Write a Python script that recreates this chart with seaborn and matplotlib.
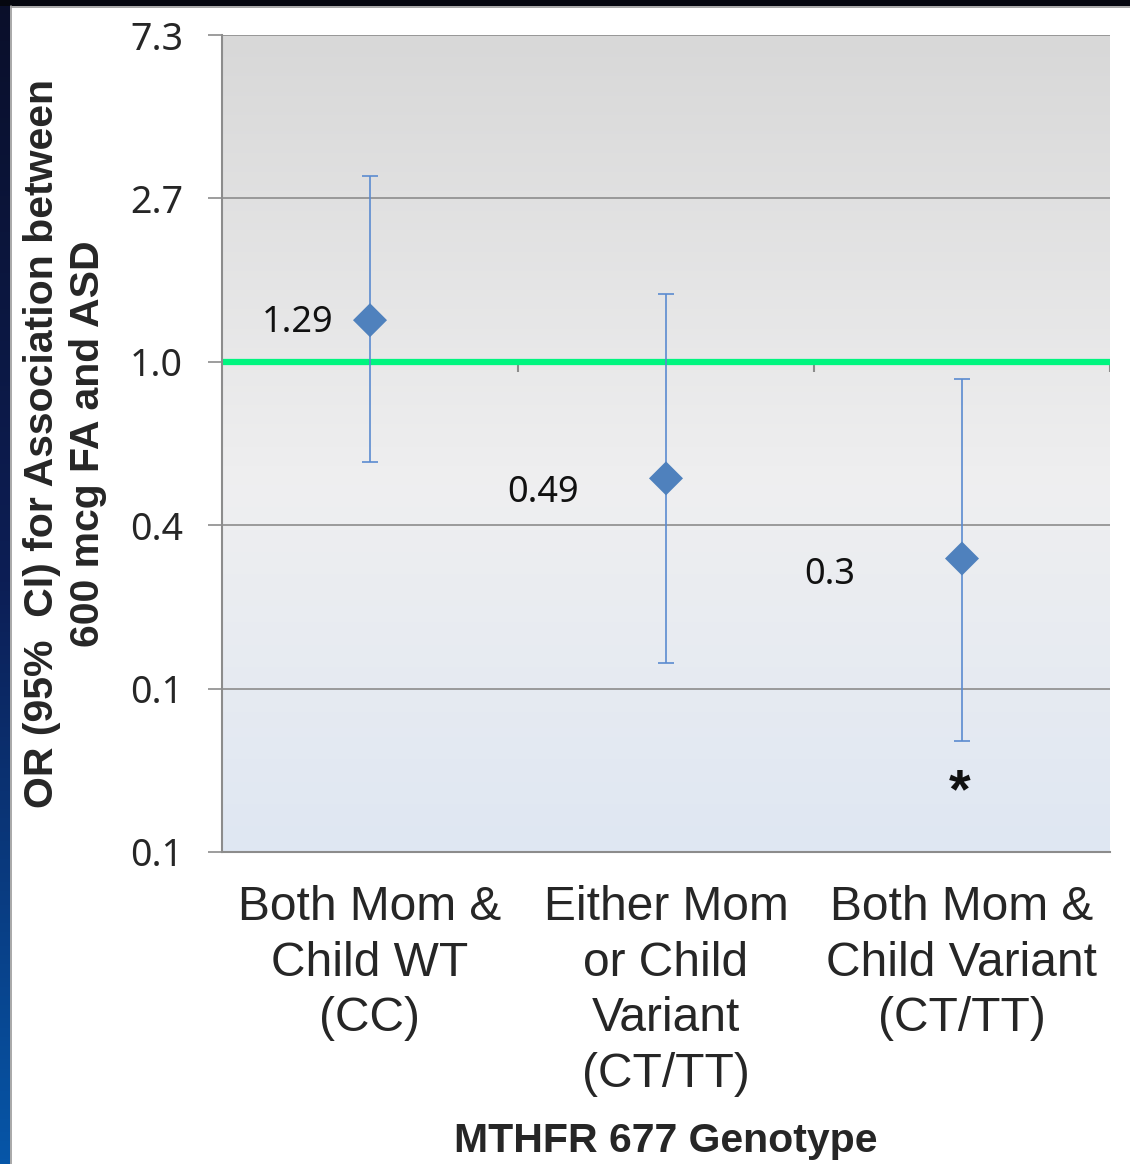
import numpy as np
import pandas as pd
import matplotlib
matplotlib.use("Agg")
import matplotlib.pyplot as plt
import seaborn as sns

# data
groups = ["Both Mom &\nChild WT\n(CC)",
          "Either Mom\nor Child\nVariant\n(CT/TT)",
          "Both Mom &\nChild Variant\n(CT/TT)"]
odds_ratio = [1.29, 0.49, 0.30]
ci_low = [0.54, 0.158, 0.098]
ci_high = [3.12, 1.51, 0.90]
or_labels = ["1.29", "0.49", "0.3"]
ytick_labels = ["0.1", "0.1", "0.4", "1.0", "2.7", "7.3"]
ytick_powers = [-3, -2, -1, 0, 1, 2]

df = pd.DataFrame({"pos": range(len(groups)), "OR": odds_ratio,
                   "low": ci_low, "high": ci_high})

sns.set_style("white")
plt.rcParams["font.family"] = ["Liberation Sans", "DejaVu Sans"]

fig = plt.figure(figsize=(11.30, 11.64), dpi=100)
fig.patch.set_facecolor("white")

# dark frame strips (slide edge)
left_strip = fig.add_axes([0, 0, 10 / 1130, 1])
grad = np.linspace(0, 1, 256).reshape(-1, 1)
strip_cmap = matplotlib.colors.LinearSegmentedColormap.from_list(
    "strip", ["#0a0f2a", "#0d1e55", "#0656a8"])
left_strip.imshow(grad, aspect="auto", cmap=strip_cmap, origin="upper")
left_strip.axis("off")
top_strip = fig.add_axes([0, 1 - 6 / 1164, 1, 6 / 1164])
top_strip.set_facecolor("#05070f")
top_strip.set_xticks([]); top_strip.set_yticks([])
for s in top_strip.spines.values():
    s.set_visible(False)
fig.add_artist(plt.Line2D([11 / 1130, 11 / 1130], [0, 1 - 6 / 1164],
                          color="#9a9a9a", lw=1.2))
fig.add_artist(plt.Line2D([11 / 1130, 1], [1 - 7 / 1164, 1 - 7 / 1164],
                          color="#9a9a9a", lw=1.2))

ax = fig.add_axes([222 / 1130, 1 - 852 / 1164, 888 / 1130, 817 / 1164])

# plot area gradient: grey on top, near-white middle, pale blue at bottom
bg_cmap = matplotlib.colors.LinearSegmentedColormap.from_list(
    "bg", [(0.0, "#d8d8d8"), (0.55, "#efeff0"), (1.0, "#dfe7f3")])
ax.imshow(np.linspace(0, 1, 256).reshape(-1, 1), aspect="auto", cmap=bg_cmap,
          extent=[0, 1, 0, 1], transform=ax.transAxes, zorder=0)

ax.set_yscale("log", base=np.e)
ax.set_ylim(np.exp(-3), np.exp(2))
ax.set_xlim(-0.5, 2.5)

yt = np.exp(ytick_powers)
ax.set_yticks(yt)
ax.set_yticklabels(ytick_labels, family=["Noto Sans", "DejaVu Sans"], fontsize=27)
ax.yaxis.set_minor_locator(matplotlib.ticker.NullLocator())
for v in yt[1:]:
    ax.axhline(v, color="#8c8c8c", lw=1.2, zorder=1)

# reference line at OR = 1
ax.axhline(1.0, color="#00f57f", lw=4.5, zorder=2)
ax.vlines([0.5, 1.5, 2.5], np.exp(-10 / 163), 1.0, color="#8c8c8c", lw=1.5, zorder=1)

# confidence intervals and point estimates
ax.errorbar(df["pos"], df["OR"],
            yerr=[df["OR"] - df["low"], df["high"] - df["OR"]],
            fmt="none", ecolor="#5b8bd0", elinewidth=1.2, capsize=6,
            capthick=1.2, zorder=3)
sns.scatterplot(data=df, x="pos", y="OR", marker="D", s=300, color="#4f81bd",
                edgecolor="none", ax=ax, zorder=4, legend=False)

offsets = [(-37, -3), (-87, -15), (-107, -16)]
for i, (lab, off) in enumerate(zip(or_labels, offsets)):
    ax.annotate(lab, (i, odds_ratio[i]), xytext=off, textcoords="offset pixels",
                ha="right", va="center", fontsize=26,
                family=["Noto Sans", "DejaVu Sans"], color="#111111", zorder=5)

ax.annotate("*", (2, ci_low[2]), xytext=(-2, -52), textcoords="offset pixels",
            ha="center", va="center", fontsize=40, fontweight="bold", color="#111111")

ax.set_xticks(range(len(groups)))
ax.set_xticklabels(groups, fontsize=34.5, linespacing=1.3)
ax.tick_params(axis="x", length=0, pad=24)
ax.tick_params(axis="y", direction="out", length=10, width=1.2,
               color="#8c8c8c", pad=18, left=True)

for side in ["top", "right"]:
    ax.spines[side].set_visible(False)
for side in ["left", "bottom"]:
    ax.spines[side].set_color("#8c8c8c")
    ax.spines[side].set_linewidth(1.5)

narrow = ["Liberation Sans Narrow", "Liberation Sans", "DejaVu Sans"]
ax.set_ylabel("OR (95%  CI) for Association between\n600 mcg FA and ASD",
              fontsize=29.5, fontweight="bold", family=narrow, linespacing=1.25)
ax.yaxis.set_label_coords(-0.13, 0.5)
ax.set_xlabel("MTHFR 677 Genotype", fontsize=29.5, fontweight="bold", family=narrow)
ax.xaxis.set_label_coords(0.5, -0.33)

fig.savefig("out.png", dpi=100)
